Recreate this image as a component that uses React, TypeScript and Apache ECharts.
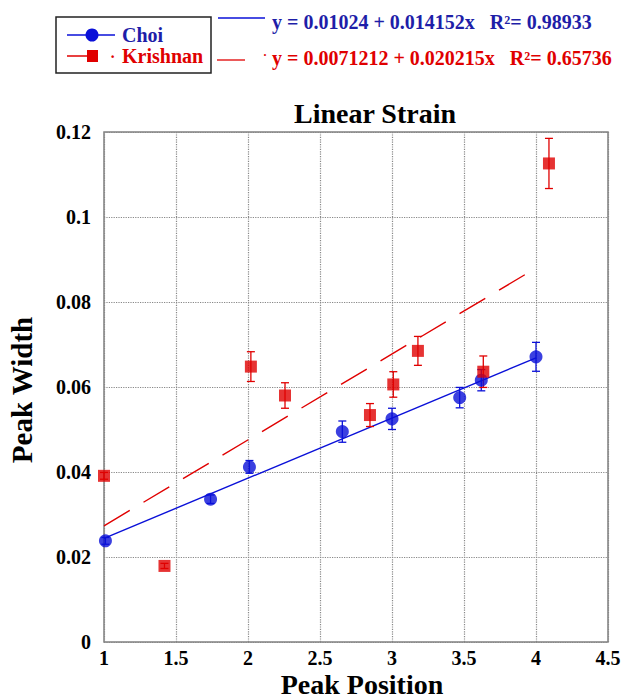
import React, { useEffect, useRef } from "react";
import * as echarts from "echarts";

const choiX = [1.01, 1.74, 2.01, 2.655, 3.0, 3.47, 3.62, 4.0];
const choiY = [0.0238, 0.0336, 0.0412, 0.0495, 0.0525, 0.0575, 0.0616, 0.0671];
const choiErr = [0.0008, 0.001, 0.0015, 0.0025, 0.0025, 0.0024, 0.0025, 0.0034];

const krishX = [1.0, 1.42, 2.02, 2.257, 2.847, 3.009, 3.18, 3.634, 4.09];
const krishY = [0.0391, 0.0179, 0.0648, 0.058, 0.0534, 0.0606, 0.0685, 0.0636, 0.1126];
const krishErr = [0.0008, 0.0006, 0.0035, 0.003, 0.0027, 0.003, 0.0034, 0.0037, 0.0059];

const choiFit = { intercept: 0.01024, slope: 0.014152, r2: "0.98933", from: 1, to: 4 };
const krishFit = { intercept: 0.0071212, slope: 0.020215, r2: "0.65736", from: 1, to: 4 };

const xTicks = { min: 1, max: 4.5, interval: 0.5 };
const yTicks = { min: 0, max: 0.12, interval: 0.02 };

const BLUE = "#0a10d8";
const BLUE_TXT = "#1e1ea8";
const RED = "#e00000";
const FONT = "'Liberation Serif', 'Times New Roman', serif";

function errorSeries(xs: number[], ys: number[], es: number[], color: string) {
  const data = xs.map((x, i) => [x, ys[i], es[i]]);
  return {
    type: "custom",
    z: 3,
    data,
    renderItem: (params: any, api: any) => {
      const x = api.value(0);
      const y = api.value(1);
      const e = api.value(2);
      const lo = api.coord([x, y - e]);
      const hi = api.coord([x, y + e]);
      const cap = 4;
      const style = { stroke: color, lineWidth: 1.3 };
      return {
        type: "group",
        children: [
          { type: "line", shape: { x1: lo[0], y1: lo[1], x2: hi[0], y2: hi[1] }, style },
          { type: "line", shape: { x1: lo[0] - cap, y1: lo[1], x2: lo[0] + cap, y2: lo[1] }, style },
          { type: "line", shape: { x1: hi[0] - cap, y1: hi[1], x2: hi[0] + cap, y2: hi[1] }, style },
        ],
      };
    },
  };
}

function fitLine(f: { intercept: number; slope: number; from: number; to: number }) {
  return [
    [f.from, f.intercept + f.slope * f.from],
    [f.to, f.intercept + f.slope * f.to],
  ];
}

export default function App() {
  const ref = useRef<HTMLDivElement>(null);
  useEffect(() => {
    if (!ref.current) return;
    const chart = echarts.init(ref.current, null, { renderer: "svg" });
    const labelStyle = { fontFamily: FONT, fontWeight: "bold", fontSize: 20, color: "#000" };
    const option: any = {
      animation: false,
      backgroundColor: "#fff",
      grid: {
        left: 104,
        top: 132,
        width: 504,
        height: 510,
        show: true,
        borderColor: "#808080",
        borderWidth: 1.5,
        backgroundColor: "transparent",
      },
      xAxis: {
        type: "value",
        min: xTicks.min,
        max: xTicks.max,
        interval: xTicks.interval,
        axisLine: { show: false },
        axisTick: { show: false },
        axisLabel: { ...labelStyle, margin: 6, showMaxLabel: true },
        splitLine: { show: true, lineStyle: { color: "#888", type: "dotted", width: 1.2 } },
      },
      yAxis: {
        type: "value",
        min: yTicks.min,
        max: yTicks.max,
        interval: yTicks.interval,
        axisLine: { show: false },
        axisTick: { show: false },
        axisLabel: {
          ...labelStyle,
          margin: 13,
          formatter: (v: number) => String(parseFloat(v.toFixed(4))),
        },
        splitLine: { show: true, lineStyle: { color: "#888", type: "dotted", width: 1.2 } },
      },
      series: [
        {
          type: "line",
          name: "Choi fit",
          data: fitLine(choiFit),
          symbol: "none",
          z: 2,
          lineStyle: { color: BLUE, width: 1.4 },
        },
        {
          type: "line",
          name: "Krishnan fit",
          data: fitLine(krishFit),
          symbol: "none",
          z: 2,
          lineStyle: { color: RED, width: 1.4, type: [30, 16] },
        },
        errorSeries(choiX, choiY, choiErr, BLUE),
        errorSeries(krishX, krishY, krishErr, RED),
        {
          type: "scatter",
          name: "Choi",
          data: choiX.map((x, i) => [x, choiY[i]]),
          symbol: "circle",
          symbolSize: 13,
          z: 4,
          itemStyle: { color: BLUE },
        },
        {
          type: "scatter",
          name: "Krishnan",
          data: krishX.map((x, i) => [x, krishY[i]]),
          symbol: "rect",
          symbolSize: 12,
          z: 4,
          itemStyle: { color: RED },
        },
      ],
      graphic: [
        // legend box
        { type: "rect", shape: { x: 56, y: 17, width: 155, height: 56 }, style: { fill: "#fff", stroke: "#222", lineWidth: 1.5 } },
        { type: "line", shape: { x1: 67, y1: 35, x2: 115, y2: 35 }, style: { stroke: BLUE, lineWidth: 1.5 } },
        { type: "circle", shape: { cx: 92, cy: 35, r: 6.5 }, style: { fill: BLUE } },
        { type: "text", x: 122, y: 35, style: { text: "Choi", font: `bold 20px ${FONT}`, fill: BLUE_TXT, verticalAlign: "middle" } },
        { type: "line", shape: { x1: 67, y1: 56, x2: 90, y2: 56 }, style: { stroke: RED, lineWidth: 1.5 } },
        { type: "rect", shape: { x: 87, y: 50, width: 11, height: 12 }, style: { fill: RED } },
        { type: "text", x: 110, y: 56, style: { text: "·", font: `bold 16px ${FONT}`, fill: RED, verticalAlign: "middle" } },
        { type: "text", x: 122, y: 56, style: { text: "Krishnan", font: `bold 20px ${FONT}`, fill: RED, verticalAlign: "middle" } },
        // fit annotations
        { type: "line", shape: { x1: 218, y1: 18, x2: 265, y2: 18 }, style: { stroke: BLUE, lineWidth: 1.3 } },
        {
          type: "text",
          x: 272,
          y: 22,
          style: {
            text: `y = ${choiFit.intercept} + ${choiFit.slope}x   R²= ${choiFit.r2}`,
            font: `bold 20px ${FONT}`,
            fill: BLUE_TXT,
            verticalAlign: "middle",
          },
        },
        { type: "line", shape: { x1: 217, y1: 60, x2: 245, y2: 60 }, style: { stroke: RED, lineWidth: 1.3 } },
        { type: "text", x: 263, y: 55, style: { text: "·", font: `bold 12px ${FONT}`, fill: RED, verticalAlign: "middle" } },
        {
          type: "text",
          x: 272,
          y: 58,
          style: {
            text: `y = ${krishFit.intercept} + ${krishFit.slope}x   R²= ${krishFit.r2}`,
            font: `bold 20px ${FONT}`,
            fill: RED,
            verticalAlign: "middle",
          },
        },
        // title
        { type: "text", x: 375, y: 113, style: { text: "Linear Strain", font: `bold 28px ${FONT}`, fill: "#000", align: "center", verticalAlign: "middle" } },
        // axis names
        { type: "text", x: 362, y: 684, style: { text: "Peak Position", font: `bold 28px ${FONT}`, fill: "#000", align: "center", verticalAlign: "middle" } },
        {
          type: "text",
          x: 22,
          y: 390,
          rotation: Math.PI / 2,
          style: { text: "Peak Width", font: `bold 29px ${FONT}`, fill: "#000", align: "center", verticalAlign: "middle" },
        },
      ],
    };
    chart.setOption(option);
    return () => chart.dispose();
  }, []);
  return (
    <div
      ref={ref}
      style={{ position: "fixed", left: 0, top: 0, width: 628, height: 699, background: "#fff" }}
    />
  );
}
